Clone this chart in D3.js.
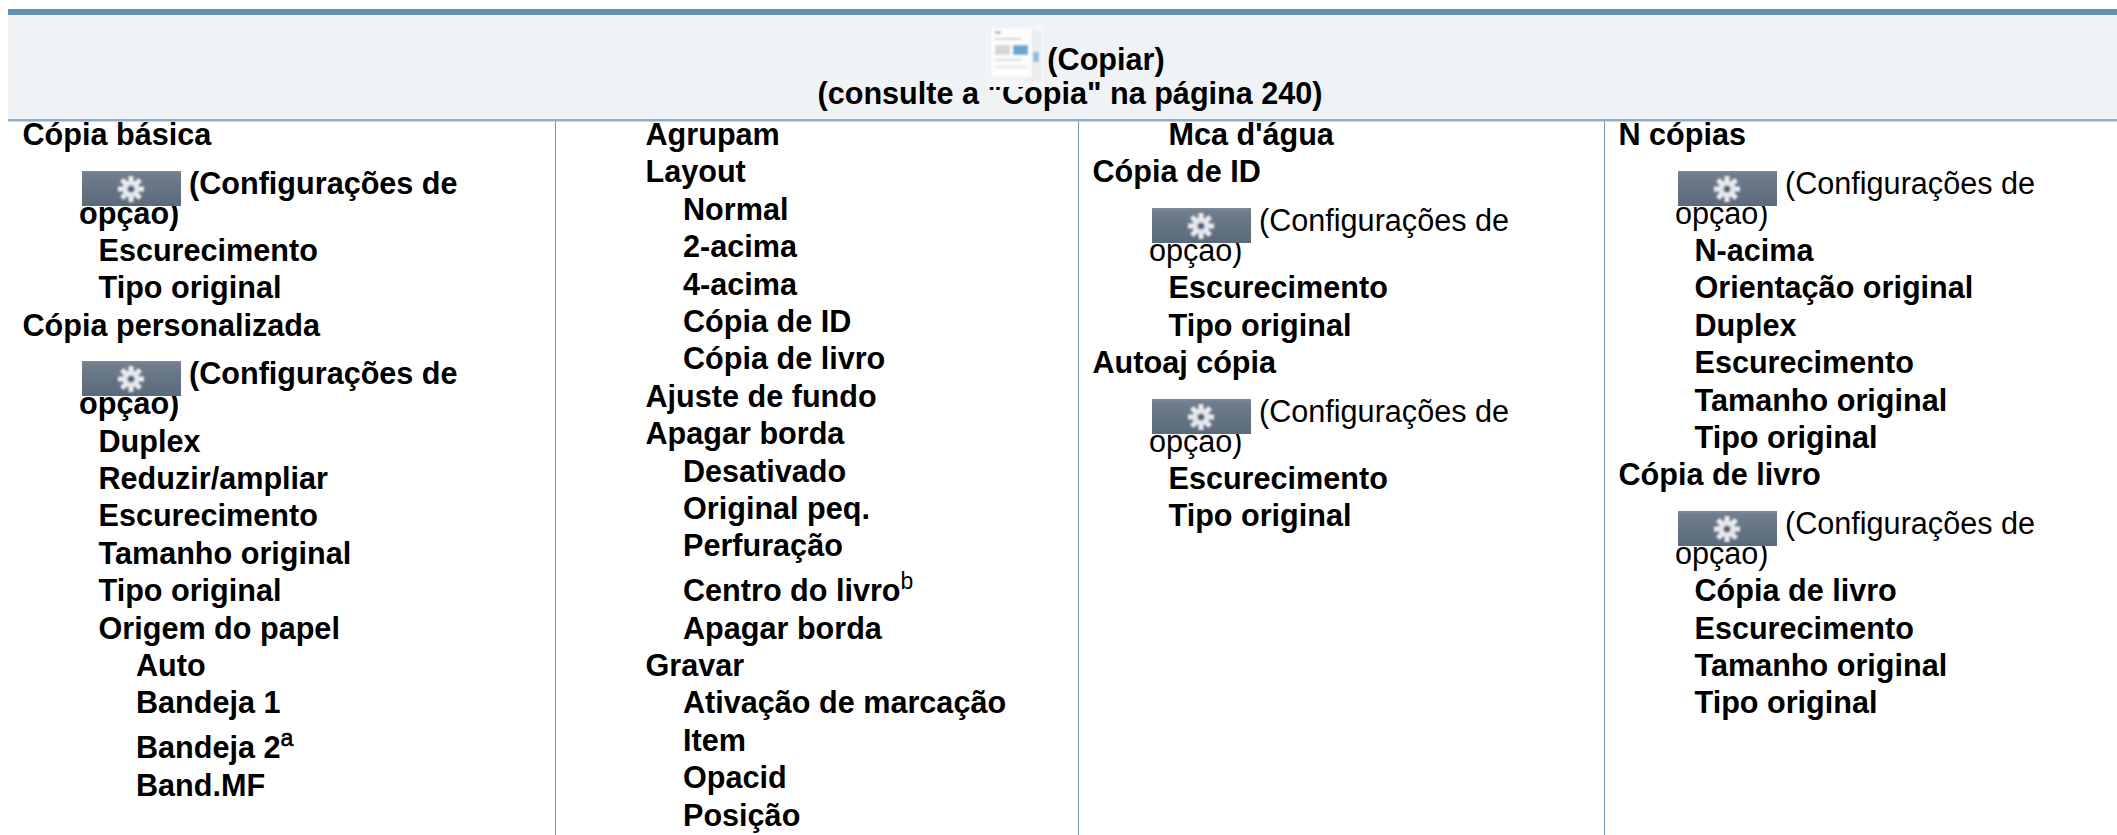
<!DOCTYPE html>
<html>
<head>
<meta charset="utf-8">
<script src="https://cdn.jsdelivr.net/npm/d3@7"></script>
<style>
    html, body { margin: 0; padding: 0; background: #fff; }
    svg { display: block; }
    text { font-family: "Liberation Sans", Arial, sans-serif; fill: #000; }
</style>
</head>
<body>
<svg id="chart" width="2117" height="835"></svg>
<script>
const titleLines = ['(Copiar)', '(consulte a "Cópia" na página 240)'];

// 0 = group, 1 = item, 2 = sub item, g = gear line, w = wrapped gear line
const col1Labels = ['Cópia básica', '(Configurações de', 'opção)', 'Escurecimento', 'Tipo original', 'Cópia personalizada',
    '(Configurações de', 'opção)', 'Duplex', 'Reduzir/ampliar', 'Escurecimento', 'Tamanho original', 'Tipo original',
    'Origem do papel', 'Auto', 'Bandeja 1', 'Bandeja 2', 'Band.MF'];
const col1Levels = [0, 'g', 'w', 1, 1, 0, 'g', 'w', 1, 1, 1, 1, 1, 1, 2, 2, 2, 2];

const col2Labels = ['Agrupam', 'Layout', 'Normal', '2-acima', '4-acima', 'Cópia de ID', 'Cópia de livro', 'Ajuste de fundo',
    'Apagar borda', 'Desativado', 'Original peq.', 'Perfuração', 'Centro do livro', 'Apagar borda', 'Gravar',
    'Ativação de marcação', 'Item', 'Opacid', 'Posição'];
const col2Levels = [1, 1, 2, 2, 2, 2, 2, 1, 1, 2, 2, 2, 2, 2, 1, 2, 2, 2, 2];

const col3Labels = ['Mca d\'água', 'Cópia de ID', '(Configurações de', 'opção)', 'Escurecimento', 'Tipo original',
    'Autoaj cópia', '(Configurações de', 'opção)', 'Escurecimento', 'Tipo original'];
const col3Levels = [1, 0, 'g', 'w', 1, 1, 0, 'g', 'w', 1, 1];

const col4Labels = ['N cópias', '(Configurações de', 'opção)', 'N-acima', 'Orientação original', 'Duplex', 'Escurecimento',
    'Tamanho original', 'Tipo original', 'Cópia de livro', '(Configurações de', 'opção)', 'Cópia de livro', 'Escurecimento',
    'Tamanho original', 'Tipo original'];
const col4Levels = [0, 'g', 'w', 1, 1, 1, 1, 1, 1, 0, 'g', 'w', 1, 1, 1, 1];

const footnotes = { 'Bandeja 2': 'a', 'Centro do livro': 'b' };

const columns = [
    { labels: col1Labels, levels: col1Levels, left: 8, gearBold: true },
    { labels: col2Labels, levels: col2Levels, left: 555, gearBold: true },
    { labels: col3Labels, levels: col3Levels, left: 1078, gearBold: false },
    { labels: col4Labels, levels: col4Levels, left: 1604, gearBold: false }
];

const width = 2117, height = 835;
const fontSize = 30.6;
const svg = d3.select('#chart');

const indent = d3.scaleOrdinal().domain([0, 1, 2, 'g', 'w']).range([14.5, 90.5, 128, 74, 71]);
const rowPx = d3.scaleLinear().domain([0, 1]).range([0, 37.4]);

// how far a row sits below the one before it, in rows
function rowStep(label, level) {
    if (level === 'g') return 1.3;
    if (level === 'w') return 0.8;
    if (label in footnotes) return 1.2;
    return 1;
}

svg.append('rect').attr('x', 8).attr('y', 9).attr('width', width - 8).attr('height', 6).attr('fill', '#6490b8');
svg.append('rect').attr('x', 8).attr('y', 15).attr('width', width - 8).attr('height', 104).attr('fill', '#eff3f6');

let defs = svg.append('defs');
let grad = defs.append('linearGradient').attr('id', 'gearGrad').attr('x1', 0).attr('x2', 0).attr('y1', 0).attr('y2', 1);
grad.append('stop').attr('offset', 0).attr('stop-color', '#7e8b97');
grad.append('stop').attr('offset', 0.1).attr('stop-color', '#6f7d8c');
grad.append('stop').attr('offset', 1).attr('stop-color', '#596a7b');
defs.append('filter').attr('id', 'soft').append('feGaussianBlur').attr('stdDeviation', 0.8);

svg.selectAll('line.divider')
    .data(columns.slice(1))
    .enter()
    .append('line')
    .attr('class', 'divider')
    .attr('x1', d => d.left + 0.5)
    .attr('x2', d => d.left + 0.5)
    .attr('y1', 120)
    .attr('y2', height)
    .attr('stroke', '#7399bf')
    .attr('stroke-width', 1);

svg.append('rect').attr('x', 8).attr('y', 119).attr('width', width - 8).attr('height', 2.5).attr('fill', '#8fadcc');

svg.selectAll('text.title')
    .data(titleLines)
    .enter()
    .append('text')
    .attr('class', 'title')
    .attr('x', (d, i) => i === 0 ? 1106 : 1070)
    .attr('y', (d, i) => 70 + i * 34)
    .attr('text-anchor', 'middle')
    .attr('font-size', fontSize)
    .attr('font-weight', 'bold')
    .text(d => d);

let gearRows = [];

columns.forEach(col => {
    let pos = 0;
    let rows = col.labels.map((label, i) => {
        if (i > 0) pos += rowStep(label, col.levels[i]);
        return { label: label, level: col.levels[i], pos: pos, col: col };
    });

    let isGear = d => d.level === 'g' || d.level === 'w';

    let texts = svg.selectAll(null)
        .data(rows)
        .enter()
        .append('text')
        .attr('x', d => col.left + indent(d.level))
        .attr('y', d => 145 + rowPx(d.pos))
        .attr('font-size', fontSize)
        .attr('font-weight', d => isGear(d) && !col.gearBold ? 'normal' : 'bold');

    texts.append('tspan')
        .attr('dx', d => d.level === 'g' ? 107 : 0)
        .text(d => d.label);

    texts.filter(d => d.label in footnotes)
        .append('tspan')
        .attr('dy', -12)
        .attr('font-size', 23)
        .attr('font-weight', 'normal')
        .attr('stroke', d => footnotes[d.label] === 'a' ? '#000' : 'none')
        .attr('stroke-width', 0.6)
        .text(d => footnotes[d.label]);

    rows.filter(d => d.level === 'g').forEach(d => gearRows.push(d));
});

// gear buttons sit over the wrapped text
const gearAngles = d3.range(8).map(i => i * 45);
let gears = svg.selectAll('g.gear')
    .data(gearRows)
    .enter()
    .append('g')
    .attr('class', 'gear')
    .attr('transform', d => `translate(${d.col.left + 74},${Math.round(145 + rowPx(d.pos) - 23)})`);

gears.append('rect').attr('width', 99).attr('height', 35).attr('fill', 'url(#gearGrad)');

let gearIcon = gears.append('g').attr('transform', 'translate(49,18)').attr('filter', 'url(#soft)');
gearIcon.selectAll('rect')
    .data(gearAngles)
    .enter()
    .append('rect')
    .attr('x', -2.5)
    .attr('y', -13)
    .attr('width', 5)
    .attr('height', 7)
    .attr('fill', '#eef0f2')
    .attr('transform', d => `rotate(${d})`);
gearIcon.append('circle').attr('r', 8.5).attr('fill', '#e6e9ec');
gearIcon.append('circle').attr('r', 3.5).attr('fill', '#4f6378');

// copy icon in the header
let doc = svg.append('g').attr('transform', 'translate(987,25)');
doc.append('rect').attr('width', 57).attr('height', 62).attr('fill', '#f6f7f9');
let docSoft = doc.append('g').attr('filter', 'url(#soft)');
docSoft.append('rect').attr('x', 37).attr('y', 5).attr('width', 18).attr('height', 52).attr('fill', '#eceff2');
docSoft.append('rect').attr('x', 3).attr('y', 2).attr('width', 43).attr('height', 51).attr('fill', '#fdfdfd').attr('stroke', '#dcdfe2');
docSoft.append('rect').attr('x', 8).attr('y', 20).attr('width', 15).attr('height', 10).attr('fill', '#d4d7da');
docSoft.append('rect').attr('x', 26).attr('y', 20).attr('width', 15).attr('height', 10).attr('fill', '#6aa4d2');
docSoft.append('rect').attr('x', 46).attr('y', 27).attr('width', 6).attr('height', 10).attr('fill', '#8fbcdc');
docSoft.append('rect').attr('x', 8).attr('y', 6).attr('width', 6).attr('height', 3).attr('fill', '#b4c0cc');
docSoft.append('rect').attr('x', 8).attr('y', 13).attr('width', 26).attr('height', 1.5).attr('fill', '#c0c5ca');
docSoft.append('rect').attr('x', 8).attr('y', 34).attr('width', 26).attr('height', 1.5).attr('fill', '#ccd0d4');
docSoft.append('rect').attr('x', 8).attr('y', 41).attr('width', 32).attr('height', 1.5).attr('fill', '#dcdfe2');
</script>
</body>
</html>
